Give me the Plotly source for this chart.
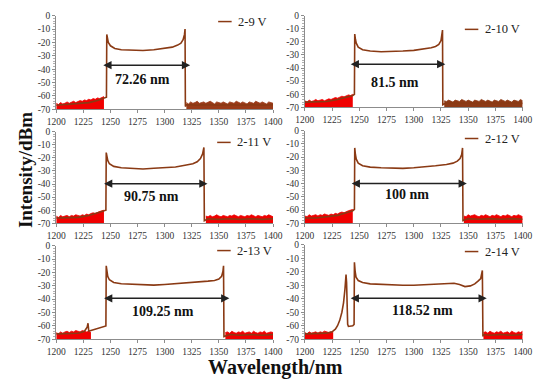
import numpy as np
import plotly.graph_objects as go

# ---------------- data ----------------
LABELS = ["2-9 V", "2-10 V", "2-11 V", "2-12 V", "2-13 V", "2-14 V"]
WIDTH_TEXT = ["72.26 nm", "81.5 nm", "90.75 nm", "100 nm", "109.25 nm", "118.52 nm"]

X_TICKS = [1200, 1225, 1250, 1275, 1300, 1325, 1350, 1375, 1400]
Y_TICKS = [0, -10, -20, -30, -40, -50, -60, -70]
Y_TICK_TEXT = ["0", "-10", "-20", "-30", "-40", "-50", "-60", "-70"]
Y_MIN, Y_MAX = -70, 0

# main (smoothed) spectra, wavelength nm / intensity dBm
WL_1 = [1200, 1210, 1220, 1230, 1238, 1244, 1246.3, 1246.6, 1247.2, 1248, 1250, 1254, 1260, 1270, 1280, 1290,
        1300, 1307, 1312, 1315, 1317, 1318.3, 1318.8, 1319.1, 1320, 1330, 1340, 1350, 1360, 1370, 1380, 1390, 1400]
DB_1 = [-67, -66.5, -66, -65, -63.5, -62, -61, -14, -17, -20, -22.5, -24.5, -25.5, -26, -26, -25.5,
        -24.5, -23.5, -22, -20.5, -18, -14, -10, -68, -66.5, -67, -66.5, -67, -66.5, -67, -66.5, -67, -66.5]

WL_2 = [1200, 1210, 1220, 1230, 1238, 1244, 1245.5, 1245.8, 1246.4, 1247.2, 1249, 1253, 1260, 1270, 1280, 1290,
        1300, 1310, 1316, 1320, 1323, 1325, 1326, 1326.4, 1326.7, 1330, 1340, 1350, 1360, 1370, 1380, 1390, 1400]
DB_2 = [-66, -66, -65.5, -64, -62.5, -61, -60, -14, -18, -21, -24, -26, -27, -27.5, -27.5, -27,
        -26.5, -25.5, -24.5, -23.5, -22, -19, -15, -11, -68, -66.5, -67, -66.5, -67, -66.5, -67, -66.5, -67]

WL_3 = [1200, 1210, 1220, 1230, 1238, 1244, 1245.8, 1246.1, 1246.7, 1247.5, 1249, 1253, 1260, 1270, 1280, 1290,
        1300, 1310, 1320, 1326, 1330, 1333, 1335, 1336.2, 1336.6, 1340, 1350, 1360, 1370, 1380, 1390, 1400]
DB_3 = [-66, -66, -65.5, -64, -62, -61, -60, -16, -19, -22, -24.5, -26.5, -27.5, -28, -28.5, -28,
        -27.5, -27, -25.5, -24.5, -23, -20.5, -17, -12, -68, -66.5, -67, -66.5, -67, -66.5, -67, -66.5]

WL_4 = [1200, 1210, 1220, 1230, 1238, 1244, 1245.5, 1245.8, 1246.4, 1247.2, 1249, 1253, 1260, 1270, 1280, 1290,
        1300, 1310, 1320, 1330, 1336, 1340, 1342.5, 1344, 1344.8, 1345.2, 1350, 1360, 1370, 1380, 1390, 1400]
DB_4 = [-66, -66, -65, -64, -62, -60.5, -59.5, -13, -18, -21.5, -24.5, -26.5, -27.5, -28, -28.5, -28.5,
        -28, -27.5, -26.5, -25.5, -24.5, -23, -21, -18, -13, -68, -66.5, -67, -66.5, -67, -66.5, -67]

WL_5 = [1200, 1210, 1220, 1226, 1228.5, 1229.3, 1230, 1232, 1238, 1244, 1245.8, 1246.1, 1246.7, 1247.5, 1249,
        1253, 1260, 1270, 1280, 1290, 1300, 1310, 1320, 1330, 1340, 1346, 1350, 1352.5, 1353.8, 1354.3, 1354.7,
        1360, 1370, 1380, 1390, 1400]
DB_5 = [-66, -66, -65.5, -64, -61, -58, -64, -63.5, -62, -60.5, -60, -15, -20, -23, -25.5,
        -27.5, -28.5, -29, -29.5, -29.5, -29, -28.5, -28, -27.5, -26.5, -26, -25, -23, -19, -15, -68,
        -66.5, -67, -66.5, -67, -66.5]

WL_6 = [1200, 1210, 1220, 1225, 1228, 1230, 1232, 1234, 1235.5, 1236.8, 1237.8, 1238.3, 1238.8, 1239.3, 1240,
        1242, 1244, 1245.2, 1245.5, 1246.2, 1247, 1249, 1253, 1260, 1270, 1280, 1290, 1300, 1310, 1320, 1330,
        1337, 1342, 1347, 1352, 1356, 1359, 1361.5, 1363, 1363.5, 1364, 1370, 1380, 1390, 1400]
DB_6 = [-66, -66, -65.5, -64.5, -62.5, -60, -56, -50, -43, -33, -22, -28, -45, -59, -60.5,
        -60.5, -60, -59, -13, -20, -24, -26.5, -28, -29, -29.5, -30, -30, -30, -29.5, -29.5, -29,
        -28.5, -29.5, -31, -30.5, -29, -27, -25, -19, -68, -66.5, -67, -66.5, -67, -66.5]

# noise-floor upper envelope readings (2 nm sampling): start wavelength + values
NOISE_STEP = 2
NL_START = [1200, 1200, 1200, 1200, 1200, 1200]
NL_1 = [-65.5, -66.5, -65, -66, -65.5, -64.5, -65.5, -65, -64, -65, -64.5, -63.5, -64, -63, -63.5, -62.5, -63, -62,
        -62.5, -61.5, -62, -61, -60.5]
NL_2 = [-65, -66, -64.5, -65.5, -65, -64, -65, -64.5, -64, -65, -64, -63.5, -64, -63, -62.5, -63, -62, -61.5, -62,
        -61, -60.5, -61, -60]
NL_3 = [-64.5, -65.5, -64, -65, -64.5, -64, -65, -64, -64.5, -63.5, -64, -64.5, -63.5, -64, -63, -63.5, -62.5, -62,
        -62.5, -61.5, -61, -60.5, -60]
NL_4 = [-64.5, -65, -63.5, -64.5, -64, -63.5, -64.5, -63.5, -64, -63, -63.5, -64, -63, -63.5, -62.5, -63, -62,
        -61.5, -62, -61, -60.5, -60, -59.5]
NL_5 = [-65, -66, -64.5, -65.5, -64.5, -64, -65, -64, -64.5, -63.5, -64, -64.5, -63.5, -64, -64.5, -64, -65]
NL_6 = [-65, -66, -64.5, -65.5, -65, -64.5, -65.5, -64.5, -65, -64, -64.5, -65, -64.5, -65]

NR_START = [1320, 1328, 1338, 1346, 1356, 1364]
NR_1 = [-65, -66, -64.5, -65.5, -65, -64, -65.5, -65, -64.5, -65.5, -65, -64, -65, -66, -64.5, -65, -65.5, -64.5,
        -65, -66, -64.5, -65, -65.5, -64, -65, -65.5, -64.5, -65, -66, -64.5, -65, -65.5, -64, -65, -65.5, -64.5,
        -65, -66, -64.5, -65, -65.5]
NR_2 = [-65, -65.5, -64.5, -65, -66, -64.5, -65, -65.5, -64, -65, -65.5, -64.5, -65, -66, -64.5, -65, -65.5, -64,
        -65, -65.5, -64.5, -65, -66, -64.5, -65, -65.5, -64, -65, -65.5, -64.5, -65, -66, -64.5, -65, -65.5, -64, -65]
NR_3 = [-64.5, -65, -64, -65, -64.5, -63.5, -64.5, -65, -64, -64.5, -65, -64, -64.5, -63.5, -64.5, -65, -64, -64.5,
        -65, -64, -64.5, -63.5, -64.5, -65, -64, -64.5, -65, -64, -64.5, -63.5, -64.5, -65]
NR_4 = [-64.5, -65, -63.5, -64.5, -64, -63.5, -64.5, -65, -64, -64.5, -63.5, -64.5, -65, -64, -64.5, -63.5, -64.5,
        -65, -64, -64.5, -63.5, -64.5, -65, -64, -64.5, -63.5, -64.5, -65]
NR_5 = [-65, -64.5, -65.5, -64, -65, -65.5, -64.5, -65, -64, -65.5, -65, -64.5, -65.5, -64, -65, -65.5, -64.5, -65,
        -64, -65.5, -65, -64.5, -65]
NR_6 = [-65, -64.5, -65.5, -64, -65, -65.5, -64.5, -65, -64, -65.5, -65, -64.5, -65.5, -64, -65, -65.5, -64.5, -65,
        -64]

# measured bandwidth arrows (start nm, end nm, level dBm)
ARROW_START = [1242, 1240.7, 1242.7, 1241.6, 1242.7, 1240.7]
ARROW_END = [1323.5, 1329, 1339.5, 1348.7, 1359.7, 1367]
ARROW_LEVEL = [-37, -37, -39.7, -40, -39.4, -39.7]

WL = [WL_1, WL_2, WL_3, WL_4, WL_5, WL_6]
DB = [DB_1, DB_2, DB_3, DB_4, DB_5, DB_6]
NL = [NL_1, NL_2, NL_3, NL_4, NL_5, NL_6]
NR = [NR_1, NR_2, NR_3, NR_4, NR_5, NR_6]

# ---------------- layout (pixels) ----------------
W, H = 550, 392
AREAS = [(48, 273, 11, 107), (306, 532, 11, 105),
         (48, 273, 130, 224), (306, 532, 129, 224),
         (48, 273, 247, 343), (306, 532, 246, 343)]
TEXT_POS = [(1280, -47.5), (1283, -51), (1287.7, -49.7), (1293.5, -48.6), (1298.7, -48.9), (1308, -49)]
LEG_POS = [(216, 17), (472, 25), (215, 141), (472, 137), (215, 252), (472, 253)]

BROWN = "#8a3a14"
RED = "#f00000"
RIGHT_FLOOR_COLOR = ["#9a3a18", "#8e3a16", RED, RED, RED, RED]
SERIF = "Liberation Serif"

fig = go.Figure()
annotations = []
shapes = []


def add_floor(x, y, xa, ya, color):
    # baseline at the bottom of the axis, then the noise envelope filled down to it
    fig.add_trace(go.Scatter(x=[x[0], x[-1]], y=[Y_MIN, Y_MIN], mode="lines", line=dict(width=0, color=color),
                             xaxis=xa, yaxis=ya, showlegend=False, hoverinfo="skip"))
    fig.add_trace(go.Scatter(x=x, y=y, mode="lines", line=dict(color=color, width=0.8), fill="tonexty",
                             fillcolor=color, xaxis=xa, yaxis=ya, showlegend=False, hoverinfo="skip"))


for i in range(6):
    k = "" if i == 0 else str(i + 1)
    xa, ya = "x" + k, "y" + k
    x0, x1, yt, yb = AREAS[i]

    nlx = NL_START[i] + NOISE_STEP * np.arange(len(NL[i]))
    nrx = NR_START[i] + NOISE_STEP * np.arange(len(NR[i]))
    add_floor(nlx, NL[i], xa, ya, RED)
    add_floor(nrx, NR[i], xa, ya, RIGHT_FLOOR_COLOR[i])
    fig.add_trace(go.Scatter(x=WL[i], y=DB[i], mode="lines", line=dict(color=BROWN, width=1.6),
                             xaxis=xa, yaxis=ya, name=LABELS[i], showlegend=False))

    axis_common = dict(showgrid=False, zeroline=False, showline=True, linecolor="#8c8c8c", linewidth=1,
                       ticks="outside", ticklen=3, tickcolor="#8c8c8c",
                       tickfont=dict(family=SERIF, size=9.5, color="#333333"))
    fig.layout["xaxis" + k] = dict(domain=[x0 / W, x1 / W], anchor=ya, range=[1200, 1400],
                                   tickvals=X_TICKS, **axis_common)
    fig.layout["yaxis" + k] = dict(domain=[1 - yb / H, 1 - yt / H], anchor=xa, range=[Y_MIN, Y_MAX],
                                   tickvals=Y_TICKS, ticktext=Y_TICK_TEXT,
                                   minor=dict(ticks="outside", ticklen=2, dtick=2, tickcolor="#b0b0b0"),
                                   **axis_common)

    # bandwidth arrow
    annotations.append(dict(x=ARROW_END[i], y=ARROW_LEVEL[i], ax=ARROW_START[i], ay=ARROW_LEVEL[i],
                            xref=xa, yref=ya, axref=xa, ayref=ya, text="", showarrow=True,
                            arrowhead=2, arrowside="end+start", arrowsize=1.1, arrowwidth=1.5,
                            arrowcolor="#222222", standoff=0, startstandoff=0))
    tx, ty = TEXT_POS[i]
    annotations.append(dict(x=tx, y=ty, xref=xa, yref=ya, text="<b>" + WIDTH_TEXT[i] + "</b>",
                            showarrow=False, xanchor="center", yanchor="middle",
                            font=dict(family=SERIF, size=14, color="#111111")))

    # legend entry
    lx, ly = LEG_POS[i]
    shapes.append(dict(type="line", xref="paper", yref="paper", x0=lx / W, x1=(lx + 14) / W,
                       y0=1 - ly / H, y1=1 - ly / H, line=dict(color=BROWN, width=1.5)))
    annotations.append(dict(x=(lx + 19) / W, y=1 - ly / H, xref="paper", yref="paper", xanchor="left",
                            yanchor="middle", text=LABELS[i], showarrow=False,
                            font=dict(family=SERIF, size=12.5, color="#222222")))

annotations.append(dict(x=16 / W, y=1 - 169 / H, xref="paper", yref="paper", text="<b>Intensity/dBm</b>",
                        textangle=-90, showarrow=False, xanchor="center", yanchor="middle",
                        font=dict(family=SERIF, size=19, color="#111111")))
annotations.append(dict(x=276 / W, y=1 - 372 / H, xref="paper", yref="paper", text="<b>Wavelength/nm</b>",
                        showarrow=False, xanchor="center", yanchor="middle",
                        font=dict(family=SERIF, size=20, color="#111111")))

fig.update_layout(width=W, height=H, autosize=False, margin=dict(l=0, r=0, t=0, b=0),
                  paper_bgcolor="white", plot_bgcolor="white", hovermode=False,
                  annotations=annotations, shapes=shapes, showlegend=False)

fig.write_html("out.html", config={"displayModeBar": False, "staticPlot": True},
               post_script="document.body.style.margin='0';")
